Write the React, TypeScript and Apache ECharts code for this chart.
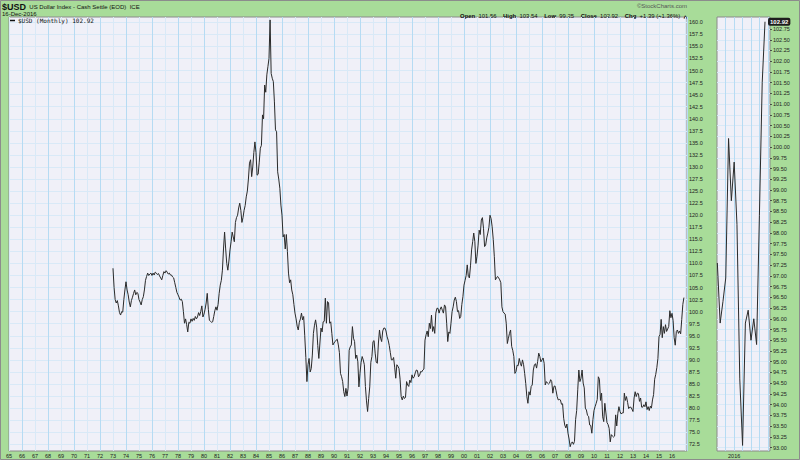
import React, { useEffect, useRef } from "react";
import * as echarts from "echarts";

// ---------- data (monthly closes, Jan 1973 .. Dec 2016) ----------
const startYear = 1973;
const usd1970s = [
  109.0, 105.0, 102.5, 101.8, 102.3, 101.2, 99.8, 99.3, 100.0, 99.9, 102.5, 104.5,
  106.2, 104.5, 103.5, 102.0, 101.0, 102.3, 103.0, 103.8, 104.5, 103.5, 104.0, 103.8,
  102.5, 102.0, 101.4, 102.5, 103.1, 104.5, 106.5, 107.3, 108.0, 107.5, 107.8, 108.0,
  107.5, 108.0, 107.6, 108.2, 108.0, 107.7, 107.9, 107.4, 107.0, 106.6, 107.5, 108.3,
  108.0, 108.5, 108.2, 107.8, 108.0, 107.6, 107.6, 107.2, 107.0, 106.0, 105.0, 104.0,
  103.5, 103.0, 102.4, 102.6, 102.1, 100.0, 97.6, 98.5, 97.3, 95.8, 97.8, 97.6,
  98.5, 98.0, 98.6, 98.2, 99.0, 98.5, 98.9, 99.8, 99.2, 100.0, 101.2, 98.9,
];
const usd1980s = [
  99.5, 100.5, 101.8, 103.8, 100.5, 98.2, 98.0, 97.8, 97.9, 99.0, 100.2, 101.0,
  100.3, 101.5, 103.8, 105.5, 106.5, 108.6, 113.0, 116.5, 113.0, 110.0, 108.6, 110.5,
  112.8, 114.5, 116.5, 115.5, 114.5, 118.5, 119.5, 120.0, 121.5, 122.5, 121.0, 118.5,
  119.5, 121.0, 122.0, 123.8, 125.0, 127.5, 130.8, 131.5, 128.0, 130.0, 133.0, 135.2,
  133.0, 128.3, 128.5, 131.0, 133.9, 134.5, 140.8, 140.0, 147.0, 145.5, 149.1, 150.8,
  152.5, 160.5, 149.4, 148.4, 147.7, 143.5, 137.7, 137.3, 129.0, 127.5, 125.6, 122.1,
  120.0, 115.5, 116.0, 113.0, 116.0, 112.5, 108.0, 106.0, 106.6, 104.5, 103.5, 101.5,
  99.7, 98.5, 97.0, 96.2, 97.8, 98.5, 99.7, 98.3, 99.0, 95.0, 90.5, 85.5,
  89.0, 90.3, 87.5, 88.2, 91.0, 95.5, 97.2, 98.3, 96.8, 93.0, 90.3, 93.5,
  96.6, 95.8, 97.9, 98.0, 102.8, 97.6, 102.1, 101.8, 97.6, 97.9, 95.5, 93.1,
];
const usd1990s = [
  93.5, 93.8, 94.1, 94.3, 93.1, 91.5, 87.2, 86.5, 85.5, 83.4, 82.4, 84.1,
  82.5, 84.1, 92.0, 92.7, 93.1, 96.9, 94.5, 93.8, 90.3, 91.0, 89.6, 84.4,
  87.2, 89.5, 90.7, 90.0, 89.0, 84.5, 81.5, 79.3, 82.0, 84.4, 89.5, 90.7,
  93.8, 94.0, 91.4, 89.5, 89.3, 93.5, 96.2, 94.5, 93.8, 96.0, 96.6, 96.6,
  96.0, 94.8, 94.1, 93.0, 91.5, 90.0, 90.0, 90.5, 88.5, 86.2, 89.0, 88.7,
  88.2, 86.0, 82.4, 81.7, 82.5, 82.0, 82.2, 85.5, 84.8, 84.5, 85.8, 85.3,
  86.9, 86.2, 86.5, 87.3, 87.9, 87.8, 86.5, 86.8, 87.6, 87.5, 87.9, 88.1,
  94.1, 95.2, 96.0, 94.8, 97.6, 96.5, 99.3, 95.9, 96.9, 95.5, 99.7, 100.7,
  100.7, 99.7, 100.5, 101.0, 100.3, 99.7, 101.4, 101.0, 97.6, 93.8, 95.8, 95.5,
  97.6, 100.0, 101.0, 102.4, 103.0, 102.1, 100.0, 100.2, 98.6, 99.0, 101.5, 103.1,
];
const usd2000s = [
  105.5, 106.5, 107.5, 109.7, 107.3, 107.0, 109.5, 112.8, 114.5, 116.3, 114.5, 110.0,
  111.5, 113.8, 116.9, 116.0, 119.0, 119.5, 117.3, 113.5, 113.8, 115.3, 116.3, 117.5,
  120.0, 119.3, 117.6, 115.0, 111.4, 106.6, 107.0, 107.3, 107.0, 106.6, 106.0, 101.0,
  100.0, 99.7, 99.5, 97.6, 93.4, 94.5, 95.5, 96.2, 92.8, 92.0, 90.7, 87.2,
  87.6, 88.9, 88.8, 90.3, 89.3, 88.7, 90.0, 89.0, 87.2, 85.1, 82.4, 81.0,
  83.4, 82.7, 84.5, 84.8, 87.9, 89.0, 89.2, 88.3, 89.7, 91.4, 90.7, 89.6,
  90.0, 90.4, 89.3, 84.8, 85.5, 85.2, 85.0, 85.2, 85.9, 85.5, 83.1, 84.5,
  84.6, 83.6, 82.4, 81.7, 81.8, 81.7, 80.8, 80.9, 77.9, 76.5, 75.9, 76.7,
  74.8, 73.6, 72.0, 72.7, 73.0, 72.5, 73.1, 77.6, 79.5, 83.8, 87.9, 85.5,
  86.2, 87.9, 85.2, 84.2, 80.0, 79.6, 78.5, 78.3, 76.5, 76.4, 74.8, 77.6,
];
const usd2010s = [
  79.5, 80.3, 81.0, 81.8, 86.5, 86.0, 81.6, 83.1, 78.2, 77.2, 81.0, 79.0,
  77.0, 76.6, 75.8, 73.0, 74.5, 74.2, 74.0, 74.2, 78.6, 76.3, 78.9, 80.3,
  79.3, 78.8, 79.0, 79.0, 83.1, 81.6, 82.4, 81.2, 79.9, 80.2, 80.2, 79.8,
  79.3, 82.1, 83.4, 82.4, 83.1, 83.0, 81.4, 82.1, 80.2, 80.2, 80.7, 80.3,
  81.3, 79.7, 80.3, 79.5, 80.4, 80.0, 81.7, 82.8, 86.0, 87.0, 88.4, 90.3,
  94.8, 95.3, 98.4, 94.6, 96.9, 95.5, 97.3, 95.9, 96.4, 96.95, 100.2, 98.75,
  99.65, 98.2, 94.6, 93.05, 95.9, 96.2, 95.5, 96.0, 95.4, 98.4, 101.5, 102.92,
];
// the zoomed panel on the right starts with July 2015
const insetStartYear = 2015;
const insetStartMonth = 7;

// tick labels
const mainYTicks: number[] = [];
for (let v = 72.5; v <= 160.001; v += 2.5) mainYTicks.push(Math.round(v * 10) / 10);
const insetYTicks: number[] = [];
for (let v = 93; v <= 102.751; v += 0.25) insetYTicks.push(Math.round(v * 100) / 100);
const insetXLabels = [2016];
const insetXGrid = [2015.75, 2016, 2016.25, 2016.5, 2016.75, 2017];

const seriesName = "$USD (Monthly) 102.92";
const titleSymbol = "$USD";
const titleText = "US Dollar Index - Cash Settle (EOD)  ICE";
const dateText = "16-Dec-2016";
const ohlc = { open: "101.56", high: "103.54", low: "99.25", close: "102.92", chg: "+1.39 (+1.36%)" };

const FONT = "'Liberation Sans', Arial, sans-serif";
const GREEN = "#a8dc99";
const PLOT_BG = "#f0f0f8";
const GRID_LIGHT = "#d9e9f7";
const GRID_DARK = "#b6dbf3";

export default function App() {
  const ref = useRef<HTMLDivElement>(null);

  useEffect(() => {
    if (!ref.current) return;
    const chart = echarts.init(ref.current, undefined, { renderer: "svg" });

    const all = [...usd1970s, ...usd1980s, ...usd1990s, ...usd2000s, ...usd2010s];
    const mainData = all.map((v, i) => [startYear + i / 12, v]);
    const insetIdx = (insetStartYear - startYear) * 12 + (insetStartMonth - 1);
    const insetData = mainData.slice(insetIdx);

    const axisLabelBase = { fontFamily: FONT, fontSize: 5.5, color: "#222" };

    const option: any = {
      animation: false,
      backgroundColor: GREEN,
      textStyle: { fontFamily: FONT },
      legend: {
        show: true,
        left: 10,
        top: 17.5,
        padding: 0,
        itemWidth: 5,
        itemHeight: 1.5,
        icon: "rect",
        textStyle: { fontFamily: "'DejaVu Sans Mono', monospace", fontSize: 6, color: "#111", padding: [0, 0, 0, -2] },
        data: [{ name: seriesName, itemStyle: { color: "#111" } }],
      },
      grid: [
        { left: 9, right: 113, top: 17, bottom: 9, show: true, backgroundColor: PLOT_BG, borderColor: "#8a8a8a", borderWidth: 1, outerBoundsMode: "none", containLabel: false },
        { left: 717, right: 30, top: 17, bottom: 9, show: true, backgroundColor: PLOT_BG, borderColor: "#8a8a8a", borderWidth: 1, outerBoundsMode: "none", containLabel: false },
      ],
      xAxis: [
        {
          type: "value", gridIndex: 0, min: 1965, max: 2017.154, interval: 1,
          axisLine: { show: false }, axisTick: { show: false },
          axisLabel: { ...axisLabelBase, margin: 2, formatter: (v: number) => (v > 2016 ? "" : String(v % 100).padStart(2, "0")) },
          splitLine: { show: true, lineStyle: { color: [GRID_LIGHT, GRID_DARK], width: 1 } },
        },
        {
          type: "value", gridIndex: 1, min: 2015.49, max: 2017.065,
          axisLine: { show: false },
          axisTick: { show: false, customValues: insetXGrid },
          axisLabel: { ...axisLabelBase, margin: 2, customValues: insetXLabels, formatter: (v: number) => String(Math.round(v)) },
          splitLine: { show: true, lineStyle: { color: GRID_DARK, width: 1 } },
        },
      ],
      yAxis: [
        {
          type: "value", gridIndex: 0, position: "right", min: 71.11, max: 161.1,
          axisLine: { show: false },
          axisTick: { show: false, customValues: mainYTicks },
          axisLabel: { ...axisLabelBase, margin: 2, customValues: mainYTicks, formatter: (v: number) => v.toFixed(1) },
          splitLine: { show: true, lineStyle: { color: GRID_LIGHT, width: 1 } },
        },
        {
          type: "value", gridIndex: 1, position: "right", min: 92.92, max: 103.03,
          axisLine: { show: false },
          axisTick: { show: true, length: 2, customValues: insetYTicks, lineStyle: { color: "#333", width: 0.8 } },
          axisLabel: { ...axisLabelBase, margin: 3, customValues: insetYTicks, formatter: (v: number) => v.toFixed(2) },
          splitLine: { show: true, lineStyle: { color: GRID_LIGHT, width: 1 } },
        },
      ],
      series: [
        {
          type: "line", name: seriesName, xAxisIndex: 0, yAxisIndex: 0, data: mainData,
          symbol: "none", showSymbol: false, lineStyle: { color: "#2a2a2a", width: 1 }, itemStyle: { color: "#2a2a2a" },
        },
        {
          type: "line", name: "inset", xAxisIndex: 1, yAxisIndex: 1, data: insetData,
          symbol: "none", showSymbol: false, lineStyle: { color: "#2a2a2a", width: 1 }, itemStyle: { color: "#2a2a2a" },
          endLabel: {
            show: true, distance: 3,
            formatter: (p: any) => Number(p.value[1]).toFixed(2),
            backgroundColor: "#1e1e1e", color: "#fff", fontFamily: FONT, fontSize: 6, fontWeight: "bold",
            padding: [1, 2, 1, 2], borderRadius: 2,
          },
        },
      ],
      graphic: [
        {
          type: "text", left: 2, top: 0.5,
          style: {
            text: `{s|${titleSymbol}} {t|${titleText}}`,
            rich: {
              s: { fontFamily: FONT, fontSize: 9, fontWeight: "bold", fill: "#111", color: "#111", lineHeight: 9 },
              t: { fontFamily: FONT, fontSize: 6, fill: "#111", color: "#111", lineHeight: 9 },
            },
          },
        },
        {
          type: "text", left: 2, top: 10.5,
          style: { text: dateText, fontFamily: FONT, fontSize: 6, fill: "#111", lineHeight: 6 },
        },
        {
          type: "text", right: 113, top: 2.5,
          style: { text: "©StockCharts.com", fontFamily: FONT, fontSize: 6, fill: "#555", lineHeight: 6 },
        },
        {
          type: "text", right: 113, top: 10,
          style: {
            text: `{b|Open} {n|${ohlc.open}}  {b|High} {n|${ohlc.high}}  {b|Low} {n|${ohlc.low}}  {b|Close} {n|${ohlc.close}}  {b|Chg} {n|${ohlc.chg}} {a|▲}`,
            rich: {
              b: { fontFamily: FONT, fontSize: 5.9, fontWeight: "bold", fill: "#111", color: "#111", lineHeight: 6.5 },
              n: { fontFamily: FONT, fontSize: 5.9, fill: "#111", color: "#111", lineHeight: 6.5 },
              a: { fontFamily: "'DejaVu Sans', sans-serif", fontSize: 4.5, fill: "#333", color: "#333", lineHeight: 6.5 },
            },
          },
        },
        {
          type: "rect", silent: true, z: 100,
          shape: { x: 0.5, y: 0.5, width: 799, height: 459 },
          style: { fill: "none", stroke: "#8c8c8c", lineWidth: 1 },
        },
      ],
    };

    chart.setOption(option);
    return () => chart.dispose();
  }, []);

  return <div ref={ref} style={{ position: "fixed", left: 0, top: 0, width: 800, height: 460 }} />;
}
